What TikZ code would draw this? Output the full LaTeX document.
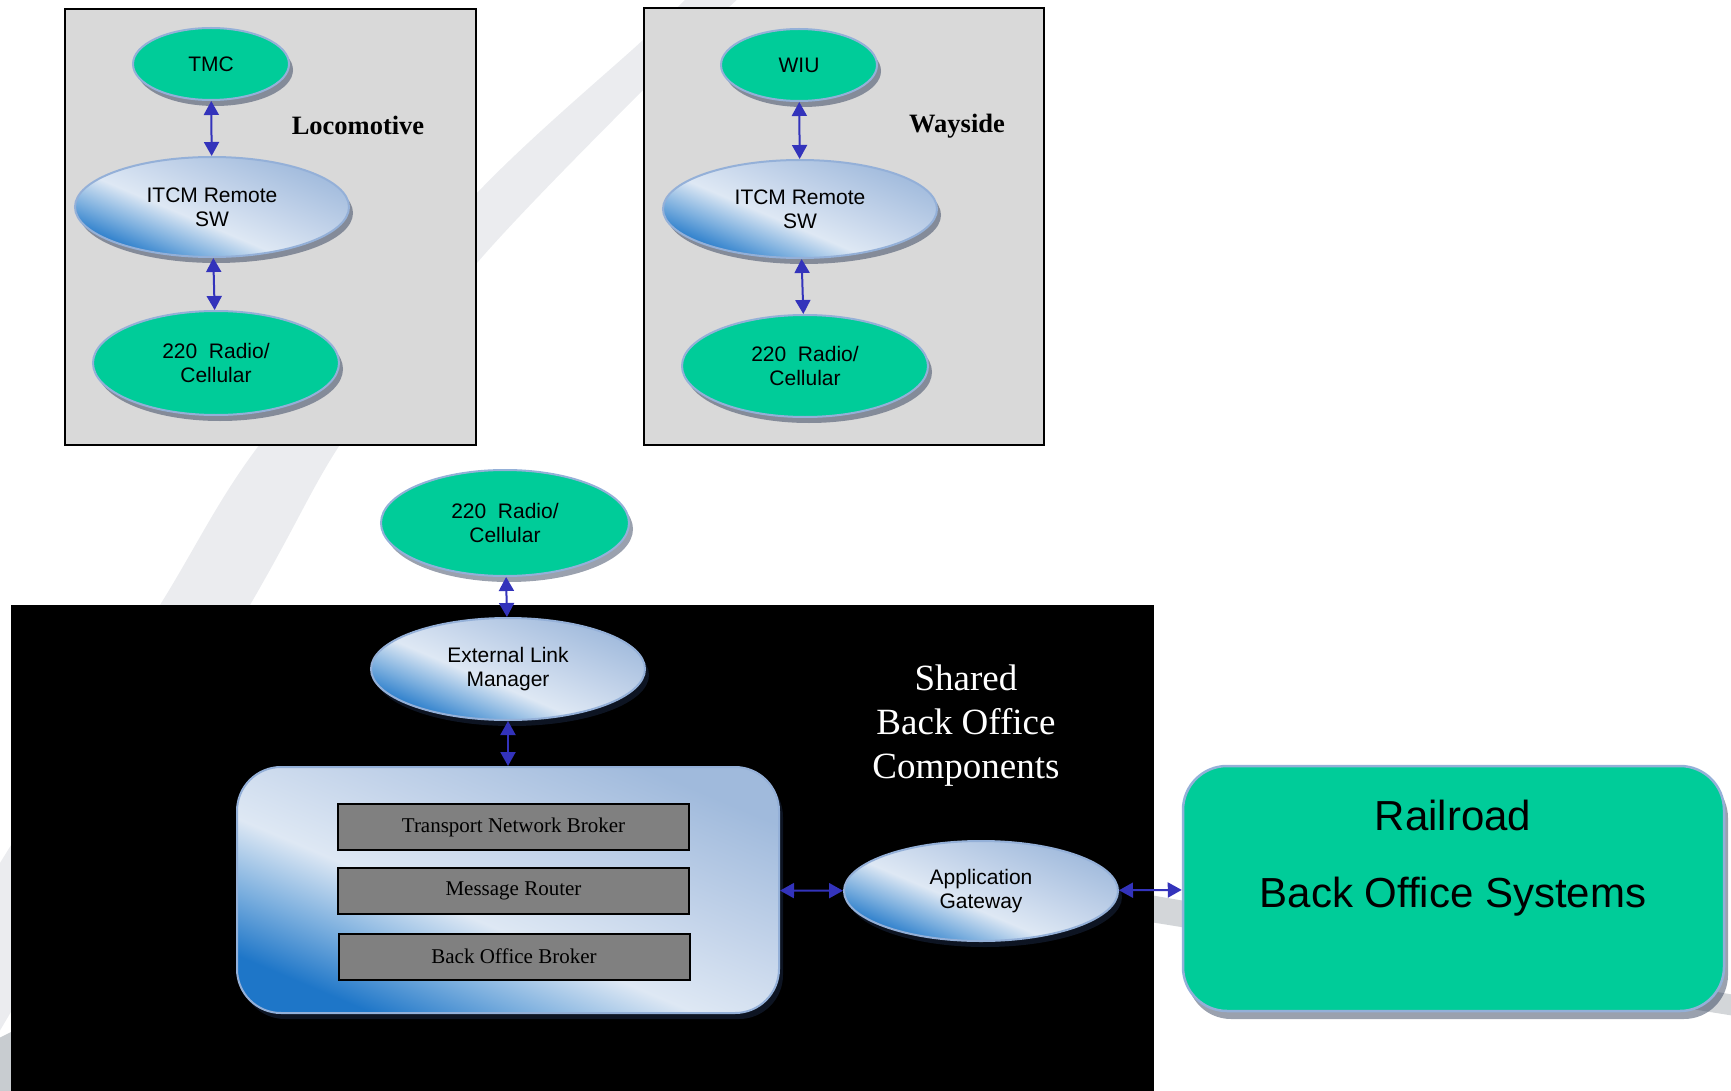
\documentclass[tikz,border=0pt]{standalone}
\usepackage{fontspec}
\setmainfont{Liberation Serif}
\newfontfamily\arialfont{Liberation Sans}
\usepackage{tikz}
\usetikzlibrary{shapes.geometric, arrows.meta, shadows}

\definecolor{caseGray}{RGB}{217,217,217}
\definecolor{ptcGreen}{RGB}{0,204,153}
\definecolor{rimBlue}{RGB}{148,176,216}
\definecolor{arrBlue}{RGB}{51,51,187}
\definecolor{oceanDark}{RGB}{30,118,200}
\definecolor{oceanMid}{RGB}{122,174,222}
\definecolor{oceanLight}{RGB}{222,232,244}
\definecolor{oceanSoft}{RGB}{196,212,234}
\definecolor{oceanTop}{RGB}{160,186,220}
\definecolor{shadeNavy}{RGB}{30,46,76}
\definecolor{markGray}{RGB}{235,236,239}
\definecolor{markDark}{RGB}{200,204,208}
\definecolor{layerGray}{RGB}{128,128,128}

\pgfdeclarehorizontalshading{ocean}{100bp}{color(0bp)=(oceanDark); color(25bp)=(oceanDark); color(34bp)=(oceanMid); color(44bp)=(oceanLight); color(57bp)=(oceanSoft); color(75bp)=(oceanTop); color(100bp)=(oceanTop)}

\tikzset{
 casebox/.style={rectangle, draw=black, line width=1.6pt, fill=caseGray, inner sep=0pt},
 greenell/.style={ellipse, draw=rimBlue, line width=2pt, fill=ptcGreen, align=center, inner sep=0pt,
  font=\arialfont\fontsize{21}{24}\selectfont,
  drop shadow={shadow xshift=4pt, shadow yshift=-6pt, fill=shadeNavy, opacity=0.45}},
 blueell/.style={ellipse, draw=rimBlue, line width=2pt, shade, shading=ocean, shading angle=67, align=center, inner sep=0pt,
  font=\arialfont\fontsize{21}{24}\selectfont,
  drop shadow={shadow xshift=4pt, shadow yshift=-6pt, fill=shadeNavy, opacity=0.45}},
 layerbox/.style={rectangle, draw=black, line width=2pt, fill=layerGray, minimum width=351pt, minimum height=46pt,
  font=\fontsize{21}{24}\selectfont},
 link/.style={draw=arrBlue, line width=2pt, <->, >={Triangle[length=14pt,width=15pt]}},
}

\begin{document}
\begin{tikzpicture}[x=1pt, y=-1pt]
 \useasboundingbox (0,0) rectangle (1731,1091) ;
%
 \fill[markGray] plot[smooth] coordinates {(690,-5) (643,40) (477,193) (263,440) (160,605) (-5,871)}
  -- plot[smooth] coordinates {(-5,1039) (250,605) (343,440) (477,263) (643,90) (742,-5)} -- cycle ;
 \fill[markDark] (-5,1040) -- (15,1030) -- (15,1095) -- (-5,1095) -- cycle ;
 \fill[markDark!70!markGray] (1150,895) -- (1735,995) -- (1735,1016) -- (1150,922) -- cycle ;
%
 \node[casebox, minimum width=411pt, minimum height=436pt] (lococase) at (270.5,227) {} ;
 \node[greenell, minimum width=156pt, minimum height=72pt] (tmc) at (211,64) {TMC} ;
 \node[blueell, minimum width=274pt, minimum height=100pt] (itcmloco) at (212,207) {ITCM Remote\\SW} ;
 \node[greenell, minimum width=246pt, minimum height=104pt] (radioloco) at (216,363) {220~ Radio/\\Cellular} ;
 \node[font=\bfseries\fontsize{26.5}{30}\selectfont] (locotitle) at (358,125) {Locomotive} ;
 \draw[link] (tmc) -- (itcmloco) ;
 \draw[link] (itcmloco) -- (radioloco) ;
%
 \node[casebox, minimum width=400pt, minimum height=437pt] (waycase) at (844,226.5) {} ;
 \node[greenell, minimum width=156pt, minimum height=72pt] (wiu) at (799,65) {WIU} ;
 \node[blueell, minimum width=274pt, minimum height=98pt] (itcmway) at (800,209) {ITCM Remote\\SW} ;
 \node[greenell, minimum width=246pt, minimum height=102pt] (radioway) at (805,366) {220~ Radio/\\Cellular} ;
 \node[font=\bfseries\fontsize{26.5}{30}\selectfont] (waytitle) at (957,126) {Wayside} ;
 \draw[link] (wiu) -- (itcmway) ;
 \draw[link] (itcmway) -- (radioway) ;
%
 \node[fill=black, inner sep=0pt, minimum width=1143pt, minimum height=486pt] (sharedzone) at (582.5,848) {} ;
 \node[greenell, minimum width=248pt, minimum height=106pt] (radiobase) at (505,523) {220~ Radio/\\Cellular} ;
 \node[blueell, minimum width=274pt, minimum height=102pt] (elm) at (508,669) {External Link\\Manager} ;
 \node[rectangle, rounded corners=44pt, draw=rimBlue, line width=2pt, shade, shading=ocean, shading angle=67,
  minimum width=542pt, minimum height=246pt,
  drop shadow={shadow xshift=4pt, shadow yshift=-6pt, fill=shadeNavy, opacity=0.45}] (brokers) at (508,890) {} ;
 \node[layerbox] (tnb) at (513.5,827) {Transport Network Broker} ;
 \node[layerbox] (router) at (513.5,891) {Message Router} ;
 \node[layerbox] (bob) at (514,956.5) {Back Office Broker} ;
 \node[text=white, align=center, font=\fontsize{37}{44}\selectfont] (sharedtitle) at (966,726) {Shared\\Back Office\\Components} ;
 \node[blueell, minimum width=274pt, minimum height=100pt] (appgw) at (981,891) {Application\\Gateway} ;
 \draw[link] (radiobase) -- (elm) ;
 \draw[link] (elm) -- (brokers) ;
 \draw[link] (brokers) -- (appgw) ;
%
 \node[rectangle, rounded corners=44pt, draw=rimBlue, line width=2.5pt, fill=ptcGreen,
  minimum width=541pt, minimum height=245pt,
  drop shadow={shadow xshift=4pt, shadow yshift=-8pt, fill=shadeNavy, opacity=0.45}] (railroad) at (1453.5,888.5) {} ;
 \node[align=center, font=\arialfont\fontsize{42}{77}\selectfont] (railtitle) at (1453,858) {Railroad\\Back Office Systems} ;
 \draw[link] (appgw) -- (railroad) ;
\end{tikzpicture}
\end{document}
